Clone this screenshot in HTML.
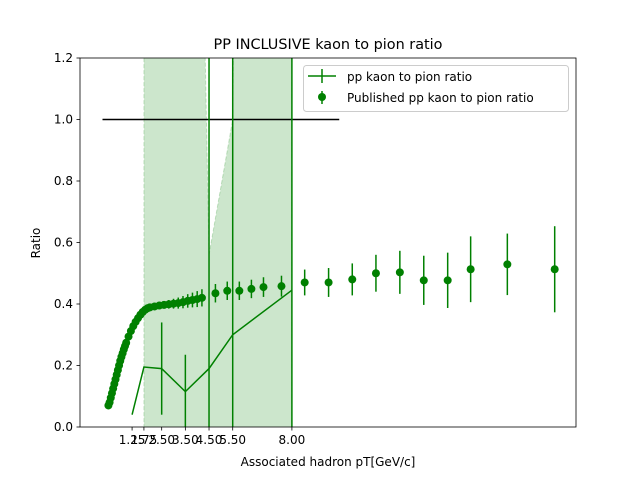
<!DOCTYPE html>
<html><head><meta charset="utf-8"><style>
html,body{margin:0;padding:0;background:#fff;width:640px;height:480px;overflow:hidden}
svg{display:block;font-family:"DejaVu Sans","Liberation Sans",sans-serif;overflow:hidden}
</style></head><body>
<svg id="chart" width="640" height="480" viewBox="0 0 640 480" xmlns="http://www.w3.org/2000/svg">
<rect width="640" height="480" fill="#fff"/>
<g id="plot"></g>
<text x="328" y="49" text-anchor="middle" font-size="14.4">PP INCLUSIVE kaon to pion ratio</text>
<text x="328" y="466" text-anchor="middle" font-size="12">Associated hadron pT[GeV/c]</text>
<text transform="translate(40,243) rotate(-90)" text-anchor="middle" font-size="12">Ratio</text>
<g>
<rect x="303.5" y="65.5" width="265" height="46" rx="3" fill="#fff" fill-opacity="0.8" stroke="#ccc"/>
<line x1="308" y1="76" x2="336" y2="76" stroke="green" stroke-width="1.5"/>
<line x1="322" y1="69" x2="322" y2="83" stroke="green" stroke-width="1.5"/>
<text x="347" y="81" font-size="12">pp kaon to pion ratio</text>
<line x1="322" y1="91" x2="322" y2="104" stroke="green" stroke-width="1.5"/>
<circle cx="322" cy="97" r="4" fill="green"/>
<text x="347" y="102" font-size="12">Published pp kaon to pion ratio</text>
</g>
</svg>
<script>
const lineX=[1.25,1.75,2.5,3.5,4.5,5.5,8.0];
const lineY=[0.04,0.195,0.19,0.115,0.19,0.30,0.445];
const lineErr=[0,0,0.15,0.12,5,5,5];
const bandX=[1.75,2.5,3.5,4.5,5.5,8.0];
const bandUpper=[5,5,4.56,0.56,1.0,20];
const bandLower=[-1,-1,-1,-1,-1,-1];
const pubX=[0.25,0.3,0.35,0.4,0.45,0.5,0.55,0.6,0.65,0.7,0.75,0.8,0.85,0.9,0.95,1.0,1.1,1.2,1.3,1.4,1.5,1.6,1.7,1.8,1.9,2.0,2.2,2.4,2.6,2.8,3.0,3.2,3.4,3.6,3.8,4.0,4.2,4.77,5.27,5.78,6.29,6.8,7.56,8.54,9.55,10.55,11.55,12.56,13.57,14.58,15.55,17.1,19.1];
const pubY=[0.07,0.08,0.095,0.11,0.125,0.14,0.155,0.17,0.185,0.2,0.215,0.228,0.24,0.252,0.263,0.274,0.294,0.312,0.328,0.342,0.354,0.365,0.374,0.381,0.386,0.389,0.392,0.395,0.397,0.399,0.401,0.403,0.406,0.41,0.413,0.416,0.42,0.435,0.443,0.443,0.449,0.455,0.458,0.47,0.47,0.48,0.50,0.503,0.477,0.477,0.513,0.529,0.513];
const pubErr=[0.004,0.004,0.004,0.004,0.004,0.004,0.004,0.004,0.004,0.004,0.005,0.005,0.005,0.005,0.005,0.005,0.005,0.005,0.005,0.005,0.006,0.006,0.006,0.007,0.007,0.008,0.009,0.01,0.012,0.014,0.016,0.018,0.02,0.022,0.024,0.026,0.028,0.03,0.03,0.03,0.03,0.032,0.034,0.042,0.047,0.052,0.06,0.07,0.08,0.09,0.107,0.1,0.14];
const refX=[0,10];
const refY=[1.0,1.0];
const xTicks=[1.25,1.75,2.5,3.5,4.5,5.5,8.0];
const xTickLabels=["1.25","1.75","2.50","3.50","4.50","5.50","8.00"];
const yTicks=[0,0.2,0.4,0.6,0.8,1.0,1.2];
const yTickLabels=["0.0","0.2","0.4","0.6","0.8","1.0","1.2"];

const L=80,R=576,T=58,B=427,YMIN=-0.02,YMAX=1.22;
const X=v=>L+(v+0.95)/(20.0+0.95)*(R-L);
const Y=v=>B-(v/1.2)*(B-T);
const Yc=v=>Y(Math.max(YMIN,Math.min(YMAX,v)));
const NS="http://www.w3.org/2000/svg";
const plot=document.getElementById('plot');
function mk(tag,attrs,parent){const e=document.createElementNS(NS,tag);for(const k in attrs)e.setAttribute(k,attrs[k]);(parent||plot).appendChild(e);return e;}
// clip polyline to y<=YMAX by inserting crossings
function clipTop(xs,ys){const out=[];for(let i=0;i<xs.length;i++){
 if(i>0){const y0=ys[i-1],y1=ys[i];if((y0-YMAX)*(y1-YMAX)<0){const t=(YMAX-y0)/(y1-y0);out.push([xs[i-1]+t*(xs[i]-xs[i-1]),YMAX]);}}
 out.push([xs[i],Math.min(ys[i],YMAX)]);}return out;}
const g=mk('g',{});
const up=clipTop(bandX,bandUpper);
let d='M'+up.map(p=>X(p[0])+','+Y(p[1])).join('L');
for(let i=bandX.length-1;i>=0;i--)d+='L'+X(bandX[i])+','+Yc(bandLower[i]);
const band=mk('path',{d:d+'Z',fill:'green','fill-opacity':0.2,stroke:'green','stroke-opacity':0.2,'stroke-dasharray':'4,2'},g);


const ref=mk('line',{x1:X(refX[0]),y1:Y(refY[0]),x2:X(refX[1]),y2:Y(refY[1]),stroke:'black','stroke-width':1.5},g);


const pl=mk('polyline',{points:lineX.map((x,i)=>X(x)+','+Y(lineY[i])).join(' '),fill:'none',stroke:'green','stroke-width':1.5},g);


lineX.forEach((x,i)=>{if(!lineErr[i])return;
 const e=mk('line',{x1:X(x),x2:X(x),y1:Yc(lineY[i]-lineErr[i]),y2:Yc(lineY[i]+lineErr[i]),stroke:'green','stroke-width':1.5},g);
 
 });
pubX.forEach((x,i)=>{
 const e=mk('line',{x1:X(x),x2:X(x),y1:Yc(pubY[i]-pubErr[i]),y2:Yc(pubY[i]+pubErr[i]),stroke:'green','stroke-width':1.5},g);
 
 
 const c=mk('circle',{cx:X(x),cy:Y(pubY[i]),r:4,fill:'green'},g);
 
 });
// mask outside axes
mk('rect',{x:L,y:0,width:R-L,height:T,fill:'#fff'});
mk('rect',{x:L,y:B,width:R-L,height:8,fill:'#fff'});
const fr=mk('rect',{x:L,y:T,width:R-L,height:B-T,fill:'none',stroke:'black','stroke-width':0.8});


xTicks.forEach((t,i)=>{
 mk('line',{x1:X(t),x2:X(t),y1:B,y2:B+3.5,stroke:'black','stroke-width':0.8});
 const tx=mk('text',{x:X(t),y:B+17,'text-anchor':'middle','font-size':12});tx.textContent=xTickLabels[i];
 
 });
yTicks.forEach((t,i)=>{
 mk('line',{x1:L-3.5,x2:L,y1:Y(t),y2:Y(t),stroke:'black','stroke-width':0.8});
 const tx=mk('text',{x:L-7,y:Y(t)+4,'text-anchor':'end','font-size':12});tx.textContent=yTickLabels[i];
 
 });
</script>
</body></html>
